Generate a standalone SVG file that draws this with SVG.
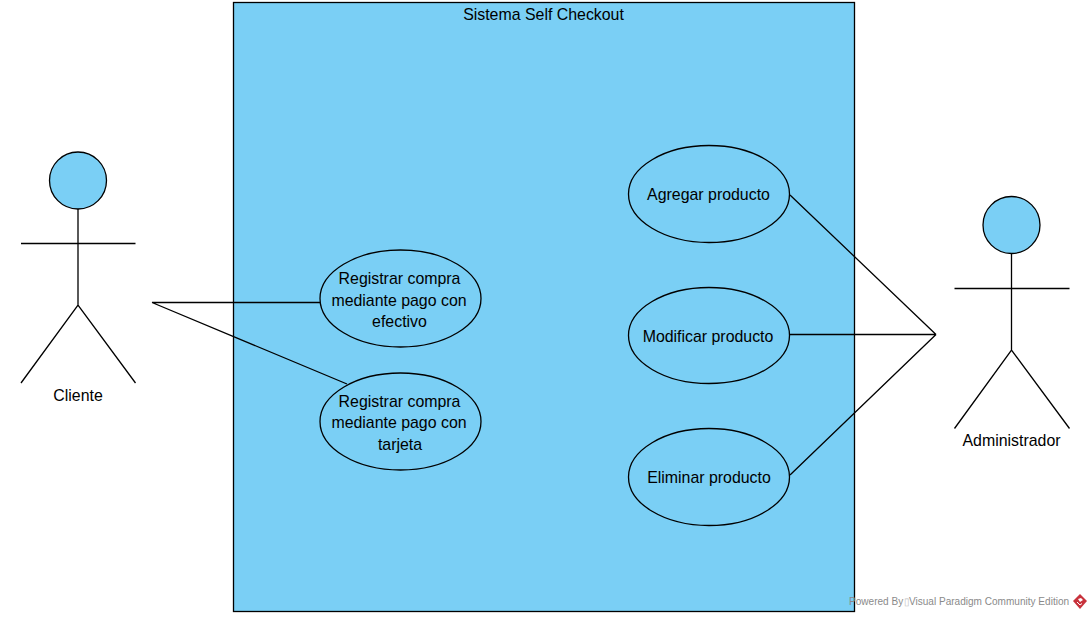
<svg xmlns="http://www.w3.org/2000/svg" width="1092" height="618" viewBox="0 0 1092 618">
<style>
.s{stroke:#000;stroke-width:1.3;fill:none}
.f{fill:#7acff5;stroke:#000;stroke-width:1.3}
text{font-family:"Liberation Sans",Arial,sans-serif;font-size:15.9px;fill:#000;text-anchor:middle}
</style>
<rect width="1092" height="618" fill="#fff"/>
<g id="system"><rect class="f" x="233.500" y="2.500" width="621" height="609"/><text x="543.500" y="20">Sistema Self Checkout</text></g>
<g id="connectors">
<path class="s" d="M152 302.500H320M152 302.500L347 384M790 195L936 334.500M790 334.500H936M790 475L936 334.500"/>
</g>
<g id="uc-efectivo"><ellipse class="f" cx="400.500" cy="298.500" rx="80.500" ry="48.500"/><text x="399.500" y="284">Registrar compra</text><text x="399" y="306">mediante pago con</text><text x="399.500" y="327">efectivo</text></g>
<g id="uc-tarjeta"><ellipse class="f" cx="400.500" cy="421.500" rx="80.500" ry="48.500"/><text x="399.500" y="407">Registrar compra</text><text x="399" y="428">mediante pago con</text><text x="400" y="450">tarjeta</text></g>
<g id="uc-agregar"><ellipse class="f" cx="709" cy="194" rx="80.500" ry="48.500"/><text x="708.500" y="200">Agregar producto</text></g>
<g id="uc-modificar"><ellipse class="f" cx="709" cy="335.500" rx="80.500" ry="48"/><text x="708" y="342">Modificar producto</text></g>
<g id="uc-eliminar"><ellipse class="f" cx="709" cy="477" rx="80.500" ry="48.500"/><text x="709" y="483">Eliminar producto</text></g>
<g id="actor-cliente"><circle class="f" cx="78" cy="180.500" r="28.500"/><path class="s" d="M78 209V305M21 243.500H135.500M21 383L78 305L135.500 383"/><text x="78" y="401">Cliente</text></g>
<g id="actor-administrador"><circle class="f" cx="1011.500" cy="225" r="28.500"/><path class="s" d="M1011.500 254V350M954.500 288.500H1069.500M954.500 428.500L1011.500 350L1069.500 428.500"/><text x="1011.500" y="446">Administrador</text></g>
<g id="watermark"><text y="605" style="font-size:10.050px;fill:#8a8a8a;text-anchor:start"><tspan x="849">Powered By</tspan><tspan x="904" fill="#c4c4c4">▯</tspan><tspan x="909">Visual Paradigm Community Edition</tspan></text>
<path d="M1080 594L1087 601L1080 609L1073 601Z" fill="#c8323c"/><path d="M1078 599L1081 598L1083 600L1080 602Z" fill="#fff"/><path d="M1077 602L1080 605L1082 603.500" fill="none" stroke="#fff"/></g>
</svg>
